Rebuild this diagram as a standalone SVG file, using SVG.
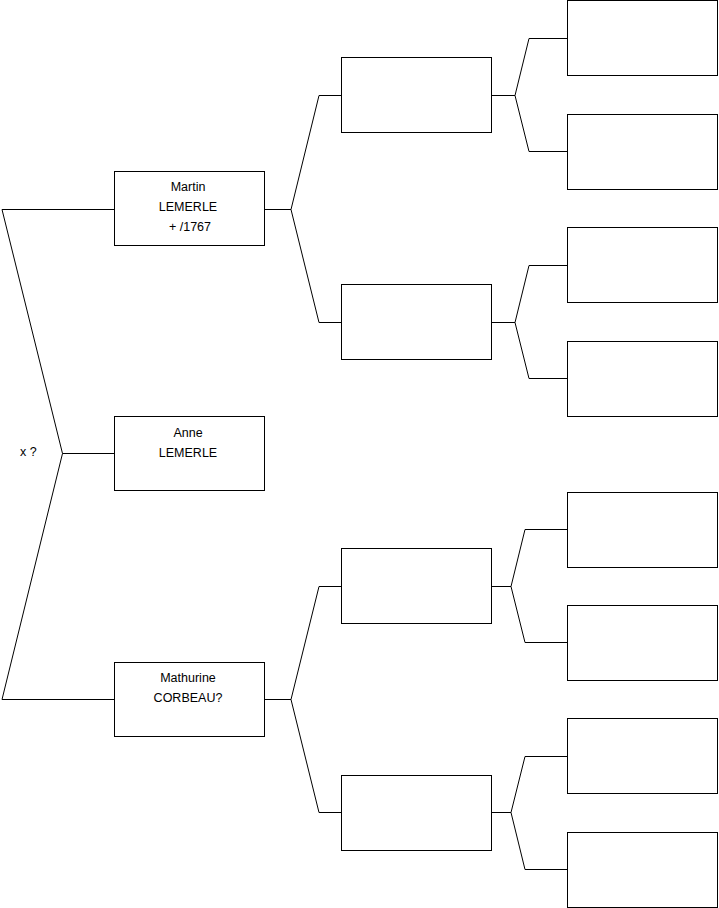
<svg xmlns="http://www.w3.org/2000/svg" width="719" height="908" viewBox="0 0 719 908">
<style>
rect.b{fill:#fff;stroke:#000;stroke-width:1}
.c path{fill:none;stroke:#000;stroke-width:1}
text{font-family:"Liberation Sans",Arial,sans-serif;font-size:12.5px;fill:#000;text-anchor:middle}
</style>
<rect width="719" height="908" fill="#fff"/>
<g class="c" id="connectors">
<path d="M114,453.5H62.5L2,209.5H114M62.5,453.5L2,699.5H114"/>
<path d="M265,209.5H291L319,95.5H341M291,209.5L319,322.5H341"/>
<path d="M265,699.5H291L319,586.5H341M291,699.5L319,812.5H341"/>
<path d="M492,95.5H515L529,38.5H567M515,95.5L529,151.5H567"/>
<path d="M492,322.5H515L529,265.5H567M515,322.5L529,378.5H567"/>
<path d="M492,586.5H511L525,529.5H567M511,586.5L525,642.5H567"/>
<path d="M492,812.5H511L525,756.5H567M511,812.5L525,869.5H567"/>
</g>
<text x="20" y="456" style="text-anchor:start">x ?</text>
<g id="martin"><rect class="b" x="114.5" y="171.5" width="150" height="74"/><text x="188" y="191">Martin</text><text x="188" y="211">LEMERLE</text><text x="190" y="231">+ /1767</text></g>
<g id="anne"><rect class="b" x="114.5" y="416.5" width="150" height="74"/><text x="188" y="437">Anne</text><text x="188" y="457">LEMERLE</text></g>
<g id="mathurine"><rect class="b" x="114.5" y="662.5" width="150" height="74"/><text x="188" y="682">Mathurine</text><text x="188" y="702">CORBEAU?</text></g>
<g id="p1"><rect class="b" x="341.5" y="57.5" width="150" height="75"/></g>
<g id="p2"><rect class="b" x="341.5" y="284.5" width="150" height="75"/></g>
<g id="p3"><rect class="b" x="341.5" y="548.5" width="150" height="75"/></g>
<g id="p4"><rect class="b" x="341.5" y="775.5" width="150" height="75"/></g>
<g id="g1"><rect class="b" x="567.5" y="0.5" width="150" height="75"/></g>
<g id="g2"><rect class="b" x="567.5" y="114.5" width="150" height="75"/></g>
<g id="g3"><rect class="b" x="567.5" y="227.5" width="150" height="75"/></g>
<g id="g4"><rect class="b" x="567.5" y="341.5" width="150" height="75"/></g>
<g id="g5"><rect class="b" x="567.5" y="492.5" width="150" height="75"/></g>
<g id="g6"><rect class="b" x="567.5" y="605.5" width="150" height="75"/></g>
<g id="g7"><rect class="b" x="567.5" y="718.5" width="150" height="75"/></g>
<g id="g8"><rect class="b" x="567.5" y="832.5" width="150" height="75"/></g>
</svg>
